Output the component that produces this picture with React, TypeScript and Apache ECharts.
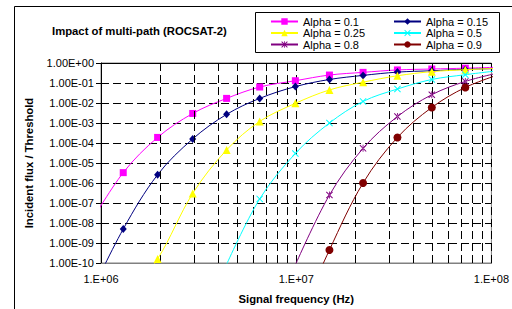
import React, { useEffect, useRef } from "react";
import * as echarts from "echarts";

// Signal frequency (Hz) of the computed points (first and last lie just outside the axis range)
const freqHz = [8.7e5, 1.3e6, 1.95e6, 2.95e6, 4.4e6, 6.5e6, 9.9e6, 1.48e7, 2.2e7, 3.3e7, 4.95e7, 7.35e7, 1.1e8];

// Incident flux / threshold for each alpha (null = not computed)
const alpha01 = [8e-9, 3.3e-6, 1.9e-4, 3.0e-3, 1.7e-2, 6.3e-2, 0.13, 0.25, 0.34, 0.45, 0.5, 0.55, 0.62];
const alpha015 = [2e-12, 5e-9, 2.6e-6, 1.6e-4, 2.7e-3, 1.7e-2, 6.6e-2, 0.15, 0.24, 0.35, 0.41, 0.48, 0.53];
const alpha025 = [null, 1e-12, 1.6e-10, 3e-7, 4.5e-5, 1.2e-3, 9.6e-3, 4.5e-2, 0.11, 0.23, 0.37, 0.46, 0.55];
const alpha05 = [null, null, null, null, 8.5e-11, 1.6e-7, 3e-5, 1e-3, 1.2e-2, 5e-2, 0.15, 0.26, 0.42];
const alpha08 = [null, null, null, null, null, null, 8e-11, 2.5e-7, 5.4e-5, 2.1e-3, 2.6e-2, 0.12, 0.33];
const alpha09 = [null, null, null, null, null, null, 6e-14, 4.5e-10, 1e-6, 1.9e-4, 6e-3, 6e-2, 0.27];

const seriesNames = ["Alpha = 0.1", "Alpha = 0.15", "Alpha = 0.25", "Alpha = 0.5", "Alpha = 0.8", "Alpha = 0.9"];
const legendCol1 = ["Alpha = 0.1", "Alpha = 0.25", "Alpha = 0.8"];
const legendCol2 = ["Alpha = 0.15", "Alpha = 0.5", "Alpha = 0.9"];

// Tick labels
const yTickLabels = [
  "1.00E-10", "1.00E-09", "1.00E-08", "1.00E-07", "1.00E-06", "1.00E-05",
  "1.00E-04", "1.00E-03", "1.00E-02", "1.00E-01", "1.00E+00",
];
const xTickLabels = ["1.E+06", "1.E+07", "1.E+08"];
// Minor vertical gridlines (Hz)
const minorGridX = [2e6, 3e6, 4e6, 5e6, 6e6, 7e6, 8e6, 9e6, 2e7, 3e7, 4e7, 5e7, 6e7, 7e7, 8e7, 9e7];

const FONT = "Liberation Sans, Arial, sans-serif";

const xPath =
  "path://M0,1L1,0L5,4L9,0L10,1L6,5L10,9L9,10L5,6L1,10L0,9L4,5Z";
const starPath =
  "path://M0,1L1,0L5,4L9,0L10,1L6,5L10,9L9,10L5,6L1,10L0,9L4,5Z M4.4,0L4.4,10L5.6,10L5.6,0Z";

const styles = [
  { color: "#FF00FF", symbol: "rect", size: 7 },
  { color: "#000080", symbol: "diamond", size: [7, 8] },
  { color: "#FFFF00", symbol: "triangle", size: 8 },
  { color: "#00FFFF", symbol: xPath, size: 7 },
  { color: "#800080", symbol: starPath, size: 7 },
  { color: "#800000", symbol: "circle", size: 8 },
];

const allValues = [alpha01, alpha015, alpha025, alpha05, alpha08, alpha09];

export default function App() {
  const ref = useRef<HTMLDivElement>(null);
  useEffect(() => {
    if (!ref.current) return;
    const chart = echarts.init(ref.current, null, { renderer: "svg" });
    const lineSeries = allValues.map((vals, i) => ({
      name: seriesNames[i],
      type: "line",
      smooth: 0.35,
      clip: true,
      z: 3 + i,
      symbol: styles[i].symbol,
      symbolSize: styles[i].size,
      lineStyle: { color: styles[i].color, width: 1 },
      itemStyle: { color: styles[i].color },
      data: vals
        .map((v, k) => (v == null ? null : [freqHz[k], v]))
        .filter((p) => p != null),
    }));
    const legendBase = {
      orient: "vertical",
      top: 16,
      padding: 0,
      itemWidth: 27,
      itemHeight: 8,
      itemGap: 0.5,
      selectedMode: false,
      textStyle: { fontSize: 11, color: "#000", fontFamily: FONT, lineHeight: 10 },
    };
    const option: any = {
      animation: false,
      backgroundColor: "#ffffff",
      textStyle: { fontFamily: FONT },
      title: {
        text: "Impact of multi-path (ROCSAT-2)",
        left: 52,
        top: 25,
        padding: 0,
        textStyle: { fontSize: 11.3, fontWeight: "bold", color: "#000", fontFamily: FONT },
      },
      legend: [
        { ...legendBase, data: legendCol1, left: 270 },
        { ...legendBase, data: legendCol2, left: 393 },
      ],
      graphic: [
        {
          type: "rect",
          z: -1,
          shape: { x: 14.5, y: 6.5, width: 700, height: 500 },
          style: { fill: "none", stroke: "#000", lineWidth: 1 },
          silent: true,
        },
        {
          type: "rect",
          z: 1,
          shape: { x: 255.5, y: 12.5, width: 244, height: 40 },
          style: { fill: "#fff", stroke: "#000", lineWidth: 1 },
          silent: true,
        },
      ],
      grid: {
        left: 101,
        top: 63,
        right: 11,
        bottom: 46,
        show: true,
        borderColor: "#808080",
        borderWidth: 1,
      },
      xAxis: [
        {
          type: "log",
          logBase: 10,
          min: 1e6,
          max: 1e8,
          interval: 1,
          position: "bottom",
          name: "Signal frequency (Hz)",
          nameLocation: "middle",
          nameGap: 30,
          nameTextStyle: { fontSize: 11.3, fontWeight: "bold", color: "#000", fontFamily: FONT },
          axisLine: { lineStyle: { color: "#808080", width: 1 } },
          axisTick: { show: false },
          axisLabel: {
            fontSize: 11,
            color: "#000",
            margin: 10,
            fontFamily: FONT,
            alignMinLabel: "center",
            alignMaxLabel: "center",
            formatter: (v: number) => xTickLabels[Math.round(Math.log10(v)) - 6] ?? "",
          },
          splitLine: { show: true, lineStyle: { color: "#000", type: [8, 4], width: 1 } },
        },
        {
          type: "log",
          logBase: 10,
          min: 1e6,
          max: 1e8,
          position: "top",
          axisLine: { show: true, lineStyle: { color: "#000", width: 1 } },
          axisTick: { show: false },
          axisLabel: { show: false },
          splitLine: { show: false },
        },
      ],
      yAxis: {
        type: "log",
        logBase: 10,
        min: 1e-10,
        max: 1,
        interval: 1,
        name: "Incident flux / Threshold",
        nameLocation: "middle",
        nameRotate: 90,
        nameGap: 67,
        nameTextStyle: { fontSize: 11.3, fontWeight: "bold", color: "#000", fontFamily: FONT },
        axisLine: { show: true, lineStyle: { color: "#000", width: 1 } },
        axisTick: { show: true, length: 5, lineStyle: { color: "#000" } },
        axisLabel: {
          fontSize: 11,
          color: "#000",
          margin: 7,
          fontFamily: FONT,
          formatter: (v: number) => yTickLabels[Math.round(Math.log10(v)) + 10] ?? "",
        },
        splitLine: { show: true, lineStyle: { color: "#000", type: [8, 4], width: 1 } },
      },
      series: [
        {
          name: "minor-grid",
          type: "line",
          data: [],
          z: 1,
          silent: true,
          markLine: {
            silent: true,
            symbol: ["none", "none"],
            label: { show: false },
            lineStyle: { color: "#000", type: [8, 4], width: 1 },
            data: minorGridX.map((v) => ({ xAxis: v })),
          },
        },
        ...lineSeries,
      ],
    };
    chart.setOption(option);
    return () => chart.dispose();
  }, []);
  return (
    <div
      ref={ref}
      style={{ position: "fixed", left: 0, top: 0, width: 512, height: 309 }}
    />
  );
}
